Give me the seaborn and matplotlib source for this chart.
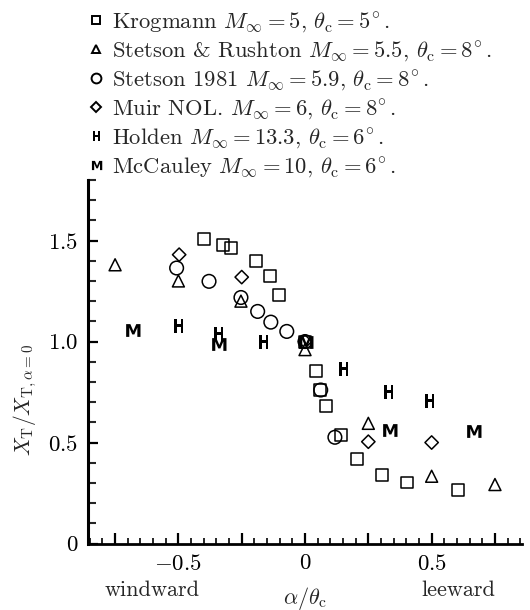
import numpy as np
import pandas as pd
import seaborn as sns
import matplotlib
matplotlib.use("Agg")
import matplotlib.pyplot as plt
from matplotlib.ticker import MultipleLocator, FuncFormatter, NullFormatter
from matplotlib.textpath import TextPath
from matplotlib.font_manager import FontProperties
from matplotlib.path import Path

# ---------------- data ----------------
krog_x = [-0.40, -0.325, -0.293, -0.193, -0.138, -0.101, 0.0, 0.042, 0.059, 0.082, 0.142, 0.204, 0.303, 0.404, 0.605]
krog_y = [1.507, 1.480, 1.461, 1.397, 1.326, 1.230, 1.0, 0.856, 0.76, 0.681, 0.536, 0.417, 0.340, 0.302, 0.264]

stru_x = [-0.75, -0.50, -0.253, 0.0, 0.25, 0.50, 0.75]
stru_y = [1.38, 1.30, 1.20, 0.96, 0.595, 0.333, 0.292]

st81_x = [-0.507, -0.379, -0.253, -0.187, -0.135, -0.072, 0.0, 0.062, 0.118]
st81_y = [1.364, 1.298, 1.218, 1.149, 1.096, 1.050, 1.0, 0.760, 0.526]

muir_x = [-0.497, -0.25, 0.0, 0.25, 0.50]
muir_y = [1.430, 1.319, 1.0, 0.504, 0.50]

hold_x = [-0.50, -0.345, -0.165, 0.149, 0.329, 0.491]
hold_y = [1.075, 1.037, 1.0, 0.863, 0.752, 0.707]

mcc_x = [-0.684, -0.342, 0.0, 0.333, 0.662]
mcc_y = [1.058, 0.987, 1.0, 0.562, 0.557]

x_tick_labels = {-0.5: r"$-0.5$", 0.0: r"$0$", 0.5: r"$0.5$"}
y_tick_labels = {0.0: r"$0$", 0.5: r"$0.5$", 1.0: r"$1.0$", 1.5: r"$1.5$"}

labels = [
    r"Krogmann $M_\infty = 5$, $\theta_\mathrm{c} = 5^{\!\circ}$.",
    r"Stetson & Rushton $M_\infty = 5.5$, $\theta_\mathrm{c} = 8^{\!\circ}$.",
    r"Stetson 1981 $M_\infty = 5.9$, $\theta_\mathrm{c} = 8^{\!\circ}$.",
    r"Muir NOL. $M_\infty = 6$, $\theta_\mathrm{c} = 8^{\!\circ}$.",
    r"Holden $M_\infty = 13.3$, $\theta_\mathrm{c} = 6^{\!\circ}$.",
    r"McCauley $M_\infty = 10$, $\theta_\mathrm{c} = 6^{\!\circ}$.",
]

# ---------------- style ----------------
sns.set_theme(style="white")
plt.rcParams["font.family"] = ["cmr10", "DejaVu Serif"]
plt.rcParams["mathtext.fontset"] = "cm"
plt.rcParams["axes.unicode_minus"] = False
plt.rcParams["axes.formatter.use_mathtext"] = True


def letter_marker(ch, aspect):
    tp = TextPath((0, 0), ch, prop=FontProperties(family="DejaVu Sans", weight="bold"), size=10)
    v = tp.vertices.copy()
    x0, x1 = v[:, 0].min(), v[:, 0].max()
    y0, y1 = v[:, 1].min(), v[:, 1].max()
    v[:, 0] = (v[:, 0] - (x0 + x1) / 2) / (x1 - x0)
    v[:, 1] = (v[:, 1] - (y0 + y1) / 2) / (y1 - y0)
    if aspect >= 1:
        v[:, 1] /= aspect
    else:
        v[:, 0] *= aspect
    return Path(v, tp.codes)


H_mark = letter_marker("H", 0.8)
M_mark = letter_marker("M", 1.25)

fig = plt.figure(figsize=(5.3, 6.1), dpi=100)
ax = fig.add_axes([0.166, 0.109, 0.819, 0.596])

series = [
    (krog_x, krog_y, "s", False, 8.6),
    (stru_x, stru_y, "^", False, 8.6),
    (st81_x, st81_y, "o", False, 9.8),
    (muir_x, muir_y, "D", False, 6.8),
    (hold_x, hold_y, H_mark, True, 9.5),
    (mcc_x, mcc_y, M_mark, True, 11.5),
]

handles = []
for (xs, ys, mk, filled, ms), lab in zip(series, labels):
    df = pd.DataFrame({"x": xs, "y": ys})
    sns.scatterplot(data=df, x="x", y="y", ax=ax, marker=mk, s=ms ** 2,
                    facecolor="black" if filled else "none",
                    edgecolor="black", linewidth=0.0 if filled else 1.1,
                    zorder=3, legend=False)
    handles.append(plt.Line2D([], [], linestyle="none", marker=mk,
                              markersize=ms * 0.72,
                              markerfacecolor="black" if filled else "none",
                              markeredgecolor="black",
                              markeredgewidth=0.0 if filled else 1.4,
                              label=lab))

ax.set_xlim(-0.857, 0.857)
ax.set_ylim(0, 1.8)

for s in ["top", "right"]:
    ax.spines[s].set_visible(False)
ax.spines["left"].set_linewidth(2.2)
ax.spines["bottom"].set_linewidth(2.0)
ax.spines["left"].set_color("black")
ax.spines["bottom"].set_color("black")

ax.xaxis.set_major_locator(MultipleLocator(0.25))
ax.xaxis.set_minor_locator(MultipleLocator(0.05))
ax.yaxis.set_major_locator(MultipleLocator(0.5))
ax.yaxis.set_minor_locator(MultipleLocator(0.1))


def yfmt(v, pos):
    for k, s in y_tick_labels.items():
        if abs(v - k) < 1e-6:
            return s
    return ""


ax.xaxis.set_major_formatter(NullFormatter())
ax.yaxis.set_major_formatter(FuncFormatter(yfmt))
ax.tick_params(axis="x", which="major", direction="in", length=8, width=1.6,
               colors="black", bottom=True)
ax.tick_params(axis="x", which="minor", direction="in", length=4, width=1.4,
               bottom=True)
ax.tick_params(axis="y", which="major", direction="in", length=7, width=1.6,
               pad=7, labelsize=16.5, colors="black", left=True)
ax.tick_params(axis="y", which="minor", direction="in", length=5.5, width=1.5,
               left=True)
ax.set_xlabel("")
ax.set_ylabel("")

# x tick labels placed at their data positions below the axis
xtrans = ax.get_xaxis_transform()
for v, s in x_tick_labels.items():
    ax.text(v, -0.055, s, transform=xtrans, ha="center", va="center",
            fontsize=16.5, color="black", clip_on=False, zorder=5)

# axis labels
fig.text(305 / 530, 1 - 598 / 610, r"$\alpha/\theta_\mathrm{c}$", ha="center", va="center", fontsize=16)
fig.text(152 / 530, 1 - 590 / 610, "windward", ha="center", va="center", fontsize=16)
fig.text(458 / 530, 1 - 590 / 610, "leeward", ha="center", va="center", fontsize=16)
fig.text(25 / 530, 1 - 400 / 610, r"$X_\mathrm{T}/X_{\mathrm{T},\alpha=0}$", ha="center",
         va="center", rotation=90, fontsize=15.5)

fig.legend(handles=handles, loc="upper left", bbox_to_anchor=(0.164, 0.983),
           frameon=False, fontsize=16.3, handlelength=0.8, handletextpad=0.3,
           labelspacing=0.19, borderpad=0, borderaxespad=0)

fig.savefig("out.png", dpi=100)
